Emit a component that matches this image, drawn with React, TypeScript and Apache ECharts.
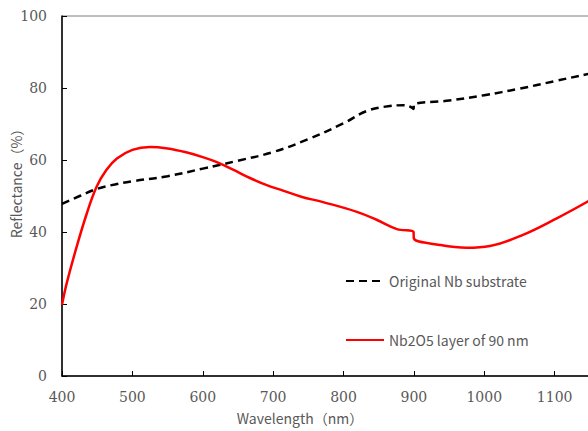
import React, { useEffect, useRef } from "react";
import * as echarts from "echarts";

const substrateWl = [400, 425, 450, 475, 500, 550, 600, 650, 700, 750, 800, 833, 866, 885, 895, 899.5, 900, 950, 1000, 1050, 1100, 1150, 1200];
const substrateR = [47.8, 50.0, 52.0, 53.2, 54.1, 55.5, 57.6, 59.8, 62.2, 65.8, 70.2, 73.6, 75.0, 75.2, 74.8, 74.2, 75.4, 76.5, 78.0, 79.8, 81.9, 84.0, 86.0];

const layerWl = [400, 407, 421, 435, 449, 463, 478, 500, 525, 550, 575, 600, 620, 643, 667, 691, 714, 740, 771, 819, 847, 876, 899.5, 900, 937, 975, 1008, 1055, 1103, 1150, 1200];
const layerR = [19.8, 26.0, 36.0, 45.0, 52.5, 57.2, 60.4, 62.8, 63.6, 63.2, 62.2, 60.8, 59.4, 57.3, 55.0, 53.0, 51.5, 49.8, 48.3, 45.6, 43.4, 40.8, 40.0, 38.2, 36.4, 35.6, 36.1, 39.2, 43.8, 48.8, 54.5];

const seriesNames = ["Original Nb substrate", "Nb2O5 layer of 90 nm"];
const xTitle = "Wavelength（nm）";
const yTitle = "Reflectance（%）";

const labelColor = "#595959";
const gothic = "'Noto Sans CJK JP', sans-serif";
const serif = "DejaVu Serif";

export default function App() {
  const ref = useRef<HTMLDivElement>(null);
  useEffect(() => {
    if (!ref.current) return;
    const chart = echarts.init(ref.current, null, { renderer: "svg" });
    const substrate = substrateWl.map((w, i) => [w, substrateR[i]]);
    const layer = layerWl.map((w, i) => [w, layerR[i]]);
    chart.setOption({
      animation: false,
      backgroundColor: "#ffffff",
      grid: {
        left: 62,
        top: 16,
        width: 563,
        height: 360,
        show: true,
        borderColor: "#7f7f7f",
        borderWidth: 1,
        containLabel: false,
        outerBoundsMode: "none",
      },
      legend: {
        orient: "vertical",
        left: 345,
        top: 274,
        padding: 0,
        itemWidth: 38,
        itemHeight: 14,
        itemGap: 45,
        data: seriesNames,
        itemStyle: { opacity: 0 },
        textStyle: {
          color: labelColor,
          fontSize: 14,
          fontFamily: gothic,
        },
      },
      xAxis: {
        type: "value",
        min: 400,
        max: 1200,
        interval: 100,
        axisLine: { show: true, lineStyle: { color: "#000", width: 1.5 } },
        axisTick: { show: true, inside: true, length: 5, lineStyle: { color: "#000" } },
        splitLine: { show: false },
        axisLabel: {
          color: labelColor,
          fontSize: 14,
          fontFamily: serif,
          margin: 14,
          showMaxLabel: false,
          formatter: (v: number) => String(v),
        },
      },
      yAxis: {
        type: "value",
        min: 0,
        max: 100,
        interval: 20,
        axisLine: { show: true, lineStyle: { color: "#000", width: 1.5 } },
        axisTick: { show: true, inside: true, length: 5, lineStyle: { color: "#000" } },
        splitLine: { show: false },
        axisLabel: {
          color: labelColor,
          fontSize: 14,
          fontFamily: serif,
          margin: 15,
          formatter: (v: number) => String(v),
        },
      },
      graphic: [
        {
          type: "text",
          x: 300,
          y: 418,
          style: {
            text: xTitle,
            fill: labelColor,
            fontSize: 14,
            fontFamily: gothic,
            align: "center",
            verticalAlign: "middle",
          },
        },
        {
          type: "text",
          x: 16,
          y: 180,
          rotation: Math.PI / 2,
          style: {
            text: yTitle,
            fill: labelColor,
            fontSize: 14,
            fontFamily: gothic,
            align: "center",
            verticalAlign: "middle",
          },
        },
      ],
      series: [
        {
          name: seriesNames[0],
          type: "line",
          data: substrate,
          symbol: "none",
          smooth: 0.4,
          lineStyle: { color: "#000", width: 2.5, type: [8, 5] },
          itemStyle: { color: "#000" },
        },
        {
          name: seriesNames[1],
          type: "line",
          data: layer,
          symbol: "none",
          smooth: 0.4,
          lineStyle: { color: "#ff0000", width: 2.5 },
          itemStyle: { color: "#ff0000" },
        },
      ],
    });
    return () => chart.dispose();
  }, []);
  return <div ref={ref} style={{ width: 588, height: 431, position: "absolute", left: 0, top: 0 }} />;
}
